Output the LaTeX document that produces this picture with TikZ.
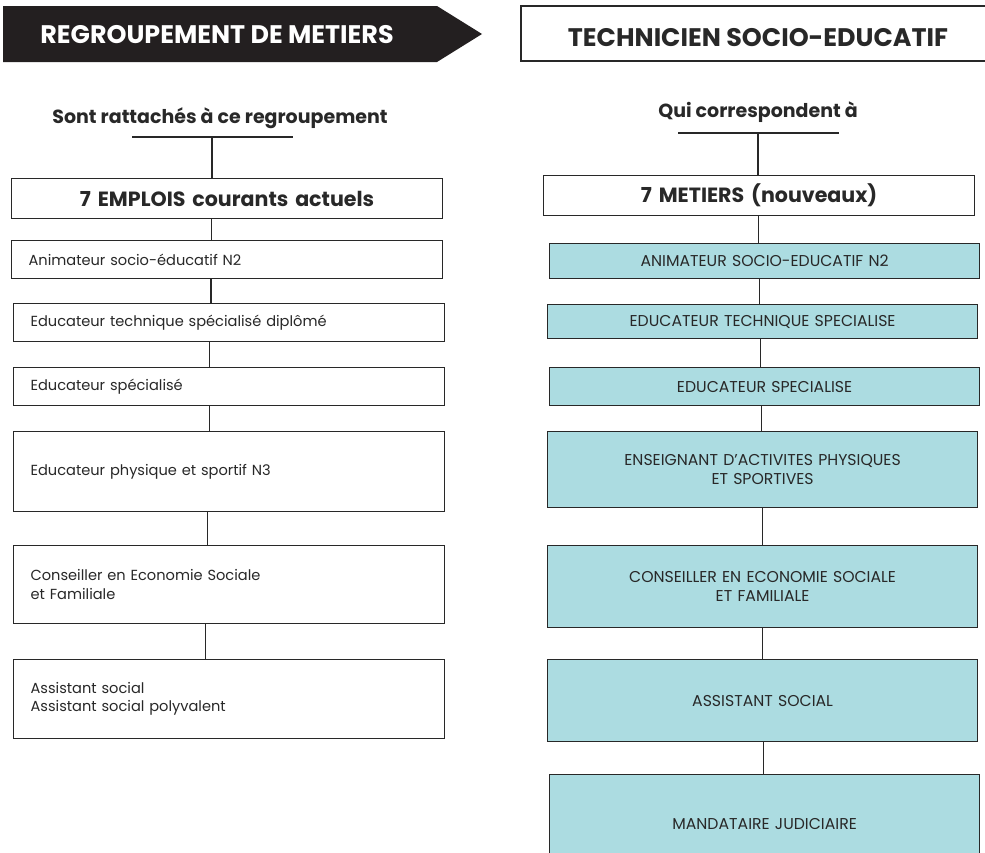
\documentclass[tikz,border=0pt]{standalone}
\usepackage{fontspec}
\setmainfont{Poppins}
\definecolor{teal1}{RGB}{172,220,225}
\definecolor{ink}{RGB}{40,40,40}
\definecolor{bannerfill}{RGB}{35,31,32}
\begin{document}
\begin{tikzpicture}[x=1pt,y=-1pt,
  every node/.style={text=ink},
  conn/.style={draw=ink, line width=1.4pt},
  lbox/.style={draw=ink, line width=1.2pt, fill=white, anchor=north west, inner ysep=0pt, inner xsep=17pt, text width=397pt, align=left, font=\fontsize{14.6}{18.3}\selectfont},
  rbox/.style={draw=ink, line width=1.2pt, fill=teal1, anchor=north west, inner ysep=0pt, inner xsep=0pt, text width=430pt, align=center, font=\fontsize{15.7}{19}\selectfont},
  titlebox/.style={draw=ink, line width=1.2pt, fill=white, anchor=north west, inner sep=0pt, text width=431pt, align=center, font=\bfseries\fontsize{20.6}{24}\selectfont},
  heading/.style={anchor=base, font=\bfseries\fontsize{19}{22}\selectfont},
  bigtitle/.style={anchor=base, font=\bfseries\fontsize{25.4}{28}\selectfont}
]
\useasboundingbox (0,0) rectangle (985,852);
\clip (0,0) rectangle (985,852);

% top banners
\fill[bannerfill] (3,6) -- (437,6) -- (482,34) -- (437,62) -- (3,62) -- cycle;
\node[bigtitle, text=white] (regroup) at (217,43) {REGROUPEMENT DE METIERS};
\draw[draw=ink, line width=2.2pt] (995,6) -- (521,6) -- (521,61) -- (995,61);
\node[bigtitle] (techn) at (758,46) {TECHNICIEN SOCIO-EDUCATIF};

% left column
\node[heading] (sont) at (220,123) {Sont rattachés à ce regroupement};
\draw[conn] (132,137) -- (293,137);
\coordinate (lt) at (212,137);
\node[titlebox, minimum height=40pt] (emplois) at (11,178) {7 EMPLOIS courants actuels};
\node[lbox, minimum height=38pt] (e1) at (11,240) {Animateur socio-éducatif N2};
\node[lbox, minimum height=38pt] (e2) at (13,303) {Educateur technique spécialisé diplômé};
\node[lbox, minimum height=38pt] (e3) at (13,367) {Educateur spécialisé};
\node[lbox, minimum height=80pt] (e4) at (13,431) {Educateur physique et sportif N3};
\node[lbox, minimum height=78pt] (e5) at (13,545) {Conseiller en Economie Sociale\\et Familiale};
\node[lbox, minimum height=79pt] (e6) at (13,659) {Assistant social\\Assistant social polyvalent};

\draw[conn] (lt) -- (emplois.north -| lt);
\draw[conn] ([xshift=-15.5pt]emplois.south) -- ([xshift=-15.5pt]emplois.south |- e1.north);
\draw[conn] ([xshift=-16pt]e1.south) -- ([xshift=-16pt]e1.south |- e2.north);
\draw[conn] ([xshift=-19.5pt]e2.south) -- ([xshift=-19.5pt]e3.north);
\draw[conn] ([xshift=-19.5pt]e3.south) -- ([xshift=-19.5pt]e4.north);
\draw[conn] ([xshift=-21.5pt]e4.south) -- ([xshift=-21.5pt]e5.north);
\draw[conn] ([xshift=-23.5pt]e5.south) -- ([xshift=-23.5pt]e6.north);

% right column
\node[heading] (qui) at (758,117) {Qui correspondent à};
\draw[conn] (678,133) -- (839,133);
\coordinate (rt) at (758,133);
\node[titlebox, minimum height=40pt] (metiers) at (543,175) {7 METIERS (nouveaux)};
\node[rbox, minimum height=35pt] (r1) at (549,243) {ANIMATEUR SOCIO-EDUCATIF N2};
\node[rbox, minimum height=34pt] (r2) at (547,304) {EDUCATEUR TECHNIQUE SPECIALISE};
\node[rbox, minimum height=38pt] (r3) at (549,367) {EDUCATEUR SPECIALISE};
\node[rbox, minimum height=76pt] (r4) at (547,431) {ENSEIGNANT D’ACTIVITES PHYSIQUES\\ET SPORTIVES};
\node[rbox, minimum height=82pt] (r5) at (547,545) {CONSEILLER EN ECONOMIE SOCIALE\\ET FAMILIALE};
\node[rbox, minimum height=82pt] (r6) at (547,659) {ASSISTANT SOCIAL};
\node[rbox, minimum height=98pt] (r7) at (549,774) {MANDATAIRE JUDICIAIRE};

\draw[conn] (rt) -- (metiers.north -| rt);
\draw[conn] ([xshift=-0.5pt]metiers.south) -- ([xshift=-0.5pt]metiers.south |- r1.north);
\draw[conn] ([xshift=-5pt]r1.south) -- ([xshift=-5pt]r1.south |- r2.north);
\draw[conn] ([xshift=-2pt]r2.south) -- ([xshift=-2pt]r2.south |- r3.north);
\draw[conn] ([xshift=-3pt]r3.south) -- ([xshift=-3pt]r3.south |- r4.north);
\draw[conn] ([xshift=0pt]r4.south) -- ([xshift=0pt]r4.south |- r5.north);
\draw[conn] ([xshift=0pt]r5.south) -- ([xshift=0pt]r5.south |- r6.north);
\draw[conn] ([xshift=1pt]r6.south) -- ([xshift=1pt]r6.south |- r7.north);
\end{tikzpicture}
\end{document}
